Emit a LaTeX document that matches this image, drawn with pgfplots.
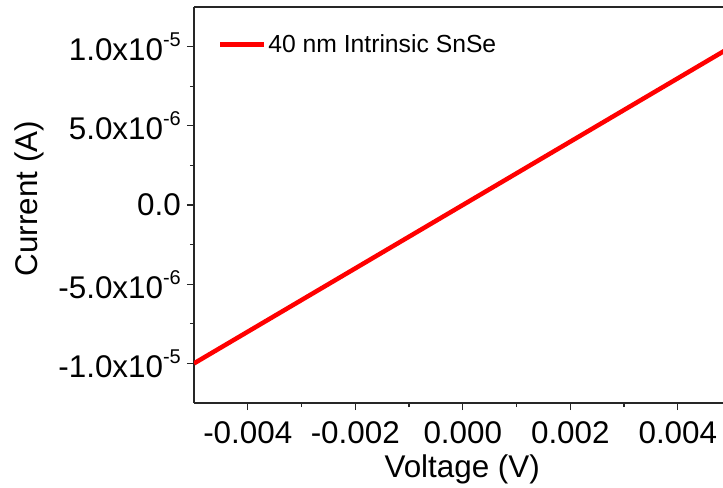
\documentclass[border=0pt]{standalone}
\usepackage{fontspec}
\setmainfont{Liberation Sans}
\usepackage{pgfplots}
\pgfplotsset{compat=1.18}
\newcommand*\sep[1]{\raisebox{14bp}{\fontsize{20}{20}\selectfont #1}}
\begin{document}
\begin{tikzpicture}
\begin{axis}[
    at={(0,0)}, anchor=south west,
    scale only axis, width=529bp, height=396bp,
    xmin=-0.005, xmax=0.00484,
    ymin=-1.25e-5, ymax=1.25e-5,
    axis x line=box, axis y line=left,
    axis line style={-, line width=1.3bp, black!85},
    xtick={-0.004,-0.002,0,0.002,0.004},
    xticklabels={-0.004,-0.002,0.000,0.002,0.004},
    ytick={-1e-5,-5e-6,0,5e-6,1e-5},
    yticklabels={-1.0x10\sep{-5},-5.0x10\sep{-6},0.0,5.0x10\sep{-6},1.0x10\sep{-5}},
    scaled ticks=false,
    minor x tick num=1, minor y tick num=1,
    tick align=outside, xtick pos=bottom, ytick pos=left,
    major tick length=7bp, minor tick length=4bp,
    every tick/.style={line width=1.2bp, black!85},
    tick label style={font=\fontsize{31.5}{36}\selectfont},
    xticklabel style={inner sep=11bp},
    yticklabel style={inner sep=6bp},
    label style={font=\fontsize{31.5}{36}\selectfont},
    xlabel={Voltage (V)},
    xlabel style={at={(axis description cs:0.507,0)}, anchor=base, yshift=-74bp},
    ylabel={Current (A)},
    ylabel style={at={(axis description cs:-0.296,0.516)}, anchor=base, rotate=0},
    legend style={draw=none, fill=none, at={(axis description cs:0.045,0.935)},
        anchor=north west, font=\fontsize{24.8}{28}\selectfont,
        inner sep=0pt, outer sep=0pt},
    legend cell align=left,
    legend image code/.code={\draw[#1] (0bp,0bp) -- (44bp,0bp);},
]
\addplot[red, line width=4.5bp] coordinates {
    (-0.005,-1e-5) (0.005,1e-5)
};
\legend{40 nm Intrinsic SnSe}
\end{axis}
\pgfresetboundingbox
\path[use as bounding box] (-194bp,-85bp) rectangle (529bp,403bp);
\end{tikzpicture}
\end{document}
